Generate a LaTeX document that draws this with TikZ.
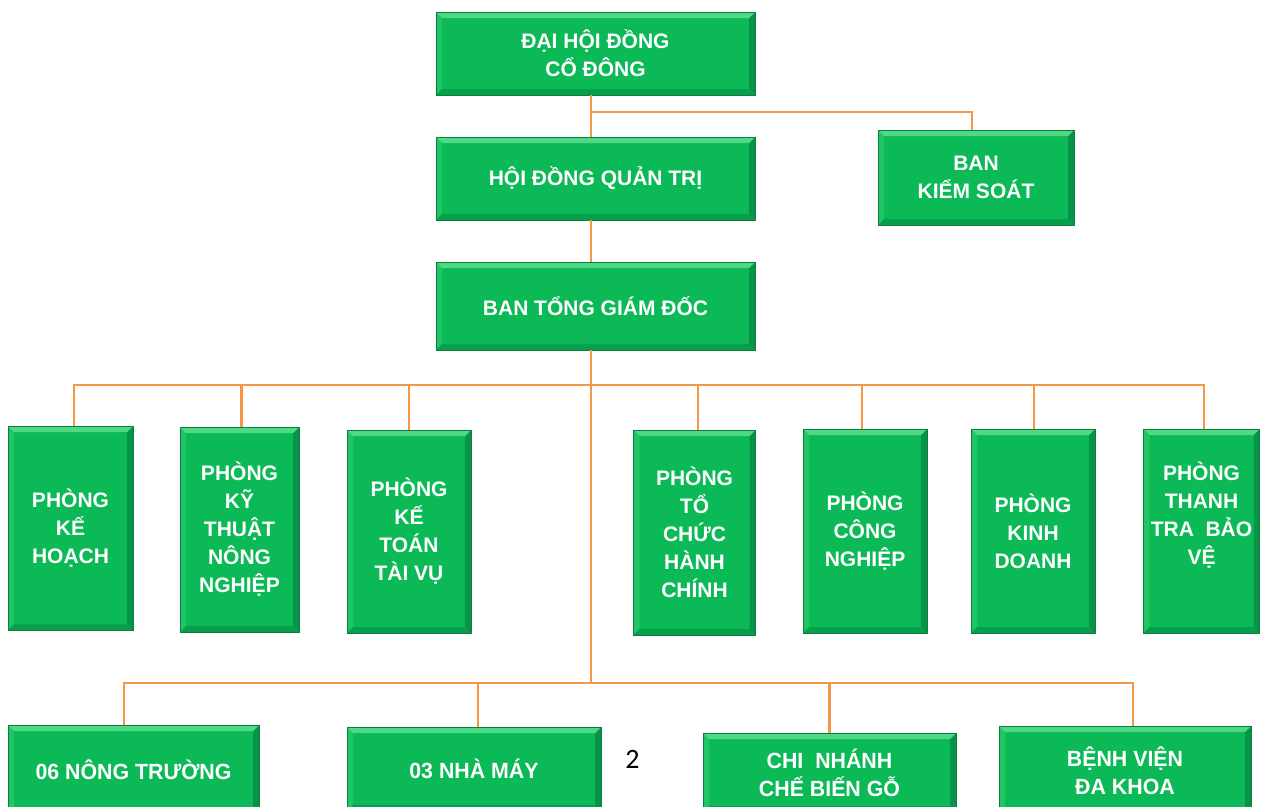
\documentclass[tikz,border=0pt]{standalone}
\usepackage{fontspec}
\setmainfont{Liberation Sans}
\newfontfamily\narrowfont[FakeStretch=0.97]{Liberation Sans}
\newfontfamily\pagefont{Carlito}
\definecolor{boxgreen}{HTML}{0BBA56}
\definecolor{bvtop}{HTML}{4FD985}
\definecolor{bvleft}{HTML}{22C566}
\definecolor{bvright}{HTML}{07944A}
\definecolor{bvbottom}{HTML}{079E4C}
\definecolor{bvborder}{HTML}{0A7F3B}
\definecolor{linkorange}{HTML}{F79646}
\tikzset{
  bevel/.style={path picture={
    \coordinate (bvnw) at (path picture bounding box.north west);
    \coordinate (bvne) at (path picture bounding box.north east);
    \coordinate (bvsw) at (path picture bounding box.south west);
    \coordinate (bvse) at (path picture bounding box.south east);
    \fill[bvleft] (bvnw) -- ([shift={(6pt,-6pt)}]bvnw) -- ([shift={(6pt,6pt)}]bvsw) -- (bvsw) -- cycle;
    \fill[bvright] (bvne) -- ([shift={(-6pt,-6pt)}]bvne) -- ([shift={(-6pt,6pt)}]bvse) -- (bvse) -- cycle;
    \fill[bvbottom] (bvsw) -- ([shift={(6pt,6pt)}]bvsw) -- ([shift={(-6pt,6pt)}]bvse) -- (bvse) -- cycle;
    \fill[bvtop] (bvnw) -- (bvne) -- ([shift={(-6pt,-6pt)}]bvne) -- ([shift={(6pt,-6pt)}]bvnw) -- cycle;
  }},
  box/.style={draw=bvborder, line width=0.8pt, fill=boxgreen, bevel, text=white,
    align=center, inner sep=0pt,
    font=\bfseries\fontsize{21}{28}\selectfont},
  lowbox/.style={box, font=\narrowfont\bfseries\fontsize{22}{28}\selectfont},
  link/.style={draw=linkorange, line width=2.2pt}
}
\begin{document}
\begin{tikzpicture}[x=1pt,y=-1pt]
\useasboundingbox (0,0) rectangle (1261,806);
\clip (0,0) rectangle (1261,806);
\fill[white] (0,0) rectangle (1261,806);

\coordinate (tr) at (591,0);
\coordinate (j1) at (591,112);
\coordinate (b2) at (591,385);
\coordinate (b3) at (591,683);

% top nodes
\node[box, minimum width=319pt, minimum height=83pt] (dh) at (595.5,53.5) {ĐẠI HỘI ĐỒNG\\CỔ ĐÔNG};
\node[box, minimum width=319pt, minimum height=83pt] (hd) at (595.5,178.5) {HỘI ĐỒNG QUẢN TRỊ};
\node[box, minimum width=196pt, minimum height=95pt] (bks) at (976,177.5) {BAN\\KIỂM SOÁT};
\node[box, minimum width=319pt, minimum height=88pt] (bt) at (595.5,306) {BAN TỔNG GIÁM ĐỐC};

% row 2
\node[box, minimum width=125pt, minimum height=204pt] (pkh) at (70.5,528) {PHÒNG\\KẾ\\HOẠCH};
\node[box, minimum width=119pt, minimum height=205pt] (pkt) at (239.5,529.5) {PHÒNG\\KỸ\\THUẬT\\NÔNG\\NGHIỆP};
\node[box, minimum width=124pt, minimum height=203pt] (pktv) at (409,531.5) {PHÒNG\\KẾ\\TOÁN\\TÀI VỤ};
\node[box, minimum width=122pt, minimum height=205pt] (ptc) at (694.5,532.5) {PHÒNG\\TỔ\\CHỨC\\HÀNH\\CHÍNH};
\node[box, minimum width=124pt, minimum height=204pt] (pcn) at (865,531) {PHÒNG\\CÔNG\\NGHIỆP};
\node[box, minimum width=124pt, minimum height=204pt] (pkd) at (1033,531) {PHÒNG\\KINH\\DOANH};
\node[box, minimum width=116pt, minimum height=204pt] (ptt) at (1201.5,531) {PHÒNG\\THANH\\TRA~ BẢO\\VỆ\\\strut};

% row 3
\node[lowbox, minimum width=251pt, minimum height=90pt] (nt) at (133.5,770) {06 NÔNG TRƯỜNG};
\node[lowbox, minimum width=254pt, minimum height=84pt] (nm) at (474,769) {03 NHÀ MÁY};
\node[lowbox, minimum width=253pt, minimum height=79pt] (cn) at (829.5,772.5) {CHI~ NHÁNH\\CHẾ BIẾN GỖ};
\node[lowbox, minimum width=252pt, minimum height=90pt] (bv) at (1125,771) {BỆNH VIỆN\\ĐA KHOA};

\node[font=\pagefont\fontsize{28}{32}\selectfont, inner sep=0pt] (pg) at (632.5,759) {2};

% trunk
\draw[link] (tr |- dh.south) -- (tr |- hd.north);
\coordinate (kd) at ([xshift=-4pt]bks.north);
\draw[link] (j1) -| (kd);
\draw[link] (tr |- hd.south) -- (tr |- bt.north);
\draw[link] (tr |- bt.south) -- (b3);

% bus 2
\coordinate (e1) at ([xshift=3.5pt]pkh.north);
\coordinate (e2) at ([xshift=2pt]pkt.north);
\coordinate (e3) at (pktv.north);
\coordinate (e4) at ([xshift=3.5pt]ptc.north);
\coordinate (e5) at ([xshift=-3pt]pcn.north);
\coordinate (e6) at ([xshift=1pt]pkd.north);
\coordinate (e7) at ([xshift=2.5pt]ptt.north);
\draw[link] (e1) -- (e1 |- b2) -- (e7 |- b2) -- (e7);
\foreach \n in {e2,e3,e4,e5,e6}{
  \draw[link] (\n) -- (\n |- b2);
}

% bus 3
\coordinate (d1) at ([xshift=-9.5pt]nt.north);
\coordinate (d2) at ([xshift=4pt]nm.north);
\coordinate (d3) at (cn.north);
\coordinate (d4) at ([xshift=8pt]bv.north);
\draw[link] (d1) -- (d1 |- b3) -- (d4 |- b3) -- (d4);
\draw[link] (d2) -- (d2 |- b3);
\draw[link] (d3) -- (d3 |- b3);
\end{tikzpicture}
\end{document}
